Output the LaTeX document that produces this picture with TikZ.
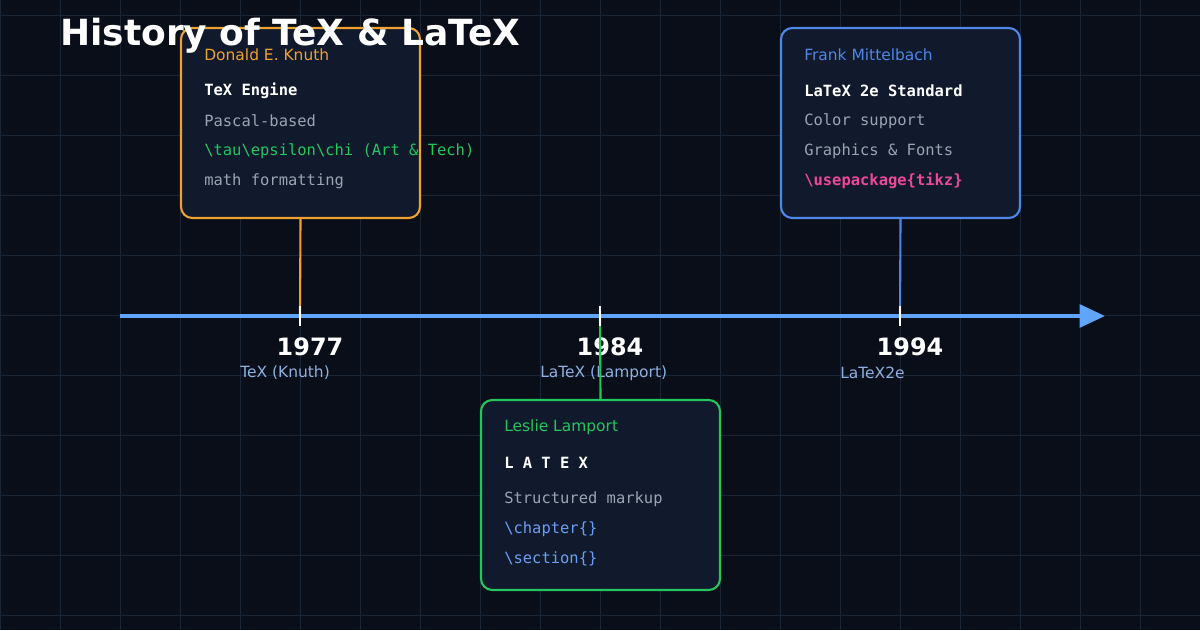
\documentclass[tikz,border=0pt]{standalone}
\usepackage{fontspec}
\setmainfont{DejaVu Sans}
\newfontfamily\monofont{DejaVu Sans Mono}
\usetikzlibrary{positioning,arrows.meta}
\definecolor{bgdark}{HTML}{0A0E18}
\definecolor{gridcol}{HTML}{1A2636}
\definecolor{axisblue}{HTML}{60A5FA}
\definecolor{boxfill}{HTML}{111A2C}
\definecolor{texorange}{HTML}{F0A030}
\definecolor{latexgreen}{HTML}{22C55E}
\definecolor{twoeblue}{HTML}{4F86E8}
\definecolor{tikzpink}{HTML}{EC4899}
\definecolor{softgray}{HTML}{9AA4B2}
\definecolor{sublabel}{HTML}{8FB0E0}
\definecolor{codeblue}{HTML}{6C9EF0}

\tikzset{
  eventbox/.style={draw=#1, line width=1.5pt, fill=boxfill, rounded corners=8pt,
    minimum width=239\unitpx, minimum height=190\unitpx, inner sep=0pt},
  boxline/.style={anchor=west, inner sep=0pt, font=\monofont\fontsize{11}{13}\selectfont, text=softgray},
  wholine/.style={anchor=west, inner sep=0pt, font=\fontsize{11}{13}\selectfont},
  yearlabel/.style={font=\bfseries\fontsize{17}{19}\selectfont, text=white},
  sublabeltext/.style={anchor=west, inner sep=0pt, font=\fontsize{11}{13}\selectfont, text=sublabel},
  tickmark/.style={draw=white, line width=2pt},
}
\newlength{\unitpx}
\setlength{\unitpx}{0.025cm}

\begin{document}
\begin{tikzpicture}[x=0.025cm, y=-0.025cm]
  \fill[bgdark] (0,0) rectangle (1200,630);
  \useasboundingbox (0,0) rectangle (1200,630);
  % grid
  \foreach \gx in {0,60,...,1200} \draw[gridcol, line width=0.6pt] (\gx,0) -- (\gx,630);
  \foreach \gy in {15,75,...,615} \draw[gridcol, line width=0.6pt] (0,\gy) -- (1200,\gy);

  % timeline
  \coordinate (start) at (120,316);
  \coordinate (end) at (1105,316);
  \draw[axisblue, line width=3pt, -{Triangle[length=18pt,width=16pt]}] (start) -- (end);
  \foreach \tx/\tn in {300/t1, 600/t2, 900/t3}
    \coordinate (\tn) at (\tx,316);

  % years
  \node[yearlabel] (y1) at (310,347) {1977};
  \node[yearlabel] (y2) at (610,347) {1984};
  \node[yearlabel] (y3) at (910,347) {1994};
  \node[sublabeltext] (s1) at (240,373) {TeX (Knuth)};
  \node[sublabeltext] (s2) at (540,373) {LaTeX (Lamport)};
  \node[sublabeltext] (s3) at (840,373) {LaTeX2e};

  % boxes
  \node[eventbox=texorange] (tex) at (300.5,123) {};
  \node[eventbox=latexgreen] (latex) at (600.5,495) {};
  \node[eventbox=twoeblue] (twoe) at (900.5,123) {};

  \draw[texorange, line width=1.5pt] (tex.south) -- (t1);
  \draw[latexgreen, line width=1.5pt] (latex.north) -- (t2);
  \draw[twoeblue, line width=1.5pt] (twoe.south) -- (t3);
  \foreach \tn in {t1,t2,t3}
    \draw[tickmark] ([yshift=10\unitpx]\tn) -- ([yshift=-10\unitpx]\tn);

  % TeX box
  \node[wholine, text=texorange] (tex1) at (204,55) {Donald E. Knuth};
  \node[boxline, text=white, font=\monofont\bfseries\fontsize{11}{13}\selectfont] (tex2) at (204,91) {TeX Engine};
  \node[boxline] (tex3) at (204,121) {Pascal-based};
  \node[boxline, text=latexgreen] (tex4) at (204,151) {\textbackslash tau\textbackslash epsilon\textbackslash chi (Art \& Tech)};
  \node[boxline] (tex5) at (204,181) {math formatting};

  % LaTeX box
  \node[wholine, text=latexgreen] (lat1) at (504,427) {Leslie Lamport};
  \node[boxline, text=white, font=\monofont\bfseries\fontsize{11}{13}\selectfont] (lat2) at (504,463) {L\hspace{0.6em}A\hspace{0.6em}T\hspace{0.6em}E\hspace{0.6em}X};
  \node[boxline] (lat3) at (504,499) {Structured markup};
  \node[boxline, text=codeblue] (lat4) at (504,529) {\textbackslash chapter\{\}};
  \node[boxline, text=codeblue] (lat5) at (504,559) {\textbackslash section\{\}};

  % LaTeX2e box
  \node[wholine, text=twoeblue] (two1) at (804,55) {Frank Mittelbach};
  \node[boxline, text=white, font=\monofont\bfseries\fontsize{11}{13}\selectfont] (two2) at (804,91) {LaTeX 2e Standard};
  \node[boxline] (two3) at (804,121) {Color support};
  \node[boxline] (two4) at (804,151) {Graphics \& Fonts};
  \node[boxline, text=tikzpink, font=\monofont\bfseries\fontsize{11}{13}\selectfont] (two5) at (804,181) {\textbackslash usepackage\{tikz\}};

  % title
  \node[anchor=west, inner sep=0pt, text=white, font=\bfseries\fontsize{25.6}{28}\selectfont] (title) at (60,36) {History of TeX \& LaTeX};
\end{tikzpicture}
\end{document}
